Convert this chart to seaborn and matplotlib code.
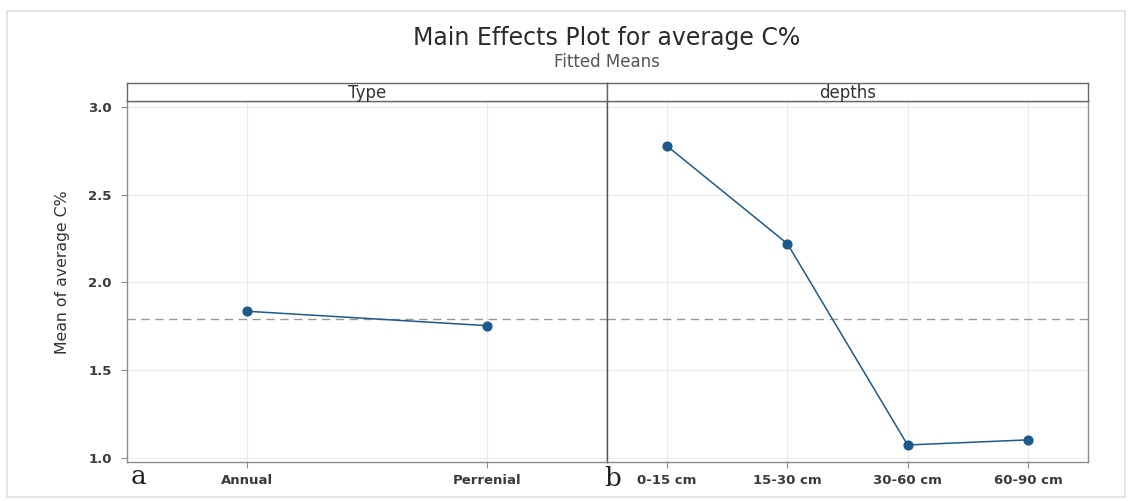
import numpy as np
import pandas as pd
import seaborn as sns
import matplotlib.pyplot as plt
from matplotlib.patches import Rectangle

# values
type_levels = ["Annual", "Perrenial"]
type_means = [1.836, 1.754]
depth_levels = ["0-15 cm", "15-30 cm", "30-60 cm", "60-90 cm"]
depth_means = [2.777, 2.221, 1.074, 1.103]
grand_mean = 1.794
y_ticks = [1.0, 1.5, 2.0, 2.5, 3.0]

line_col = "#1d5a8a"
axis_col = "#8c8c8c"
text_col = "#3a3a3a"

sns.set_style("whitegrid", {"grid.color": "#ececec", "axes.edgecolor": axis_col})
plt.rcParams['font.family'] = ['DejaVu Sans']

fig = plt.figure(figsize=(11.29, 5.01), dpi=100)
fig.patches.append(Rectangle((7 / 1129, 1 - 497 / 501), 1118 / 1129, 486 / 501,
                             transform=fig.transFigure, fill=False,
                             edgecolor="#dedede", linewidth=1.2))

W, H = 1129, 501
bottom = 1 - 462 / H
height = 361 / H
strip_b = 1 - 101 / H
strip_h = 18 / H
panels = [(127, 607, "Type", type_levels, type_means),
          (607, 1088, "depths", depth_levels, depth_means)]

for i, (x0, x1, name, levels, means) in enumerate(panels):
    ax = fig.add_axes([x0 / W, bottom, (x1 - x0) / W, height])
    df = pd.DataFrame({"level": levels, "mean": means})
    sns.pointplot(data=df, x="level", y="mean", ax=ax, color=line_col,
                  markers="o", markersize=6.5, linewidth=1.1, order=levels)
    ax.axhline(grand_mean, color="#999999", linestyle=(0, (6, 4)), linewidth=1, zorder=1)
    ax.set_xlim(-0.5, len(levels) - 0.5)
    ax.set_ylim(0.977, 3.034)
    ax.set_yticks(y_ticks)
    ax.set_xlabel("")
    ax.set_ylabel("")
    ax.grid(True, color="#ececec", linewidth=0.8)
    ax.tick_params(axis="both", length=4, width=0.8, color=axis_col,
                   labelsize=9.5, labelcolor=text_col)
    ax.tick_params(axis="x", bottom=True, pad=5)
    ax.tick_params(axis="y", pad=7)
    for lab in ax.get_xticklabels():
        lab.set_fontweight("bold")
    for s in ["top", "left", "right", "bottom"]:
        ax.spines[s].set_color(axis_col)
        ax.spines[s].set_linewidth(1)
    if i == 0:
        ax.tick_params(axis="y", left=True)
        ax.set_yticklabels([f"{v:.1f}" for v in y_ticks], fontweight="bold")
        ax.spines["right"].set_color("#555555")
    else:
        ax.tick_params(axis="y", left=False, labelleft=False)
        ax.spines["left"].set_color("#555555")

    sax = fig.add_axes([x0 / W, strip_b, (x1 - x0) / W, strip_h])
    sax.set_xticks([])
    sax.set_yticks([])
    sax.set_facecolor("white")
    for s in sax.spines.values():
        s.set_color("#666666")
        s.set_linewidth(1)
    sax.text(0.5, 0.45, name, ha="center", va="center", fontsize=12,
             color="#333333", transform=sax.transAxes)

fig.text(63 / W, 1 - 272 / H, "Mean of average C%", rotation=90, ha="center",
         va="center", fontsize=11.3, color="#333333")

fig.text(607 / W, 1 - 38 / H, "Main Effects Plot for average C%", ha="center",
         va="center", fontsize=17, color="#2b2b2b")
fig.text(607 / W, 1 - 62 / H, "Fitted Means", ha="center", va="center",
         fontsize=12, color="#555555")

fig.text(139 / W, 1 - 484 / H, "a", ha="center", va="baseline", fontsize=19,
         color="#222222", family=["DejaVu Serif"])
fig.text(613 / W, 1 - 486 / H, "b", ha="center", va="baseline", fontsize=19,
         color="#222222", family=["DejaVu Serif"])

fig.savefig("out.png", dpi=100)
